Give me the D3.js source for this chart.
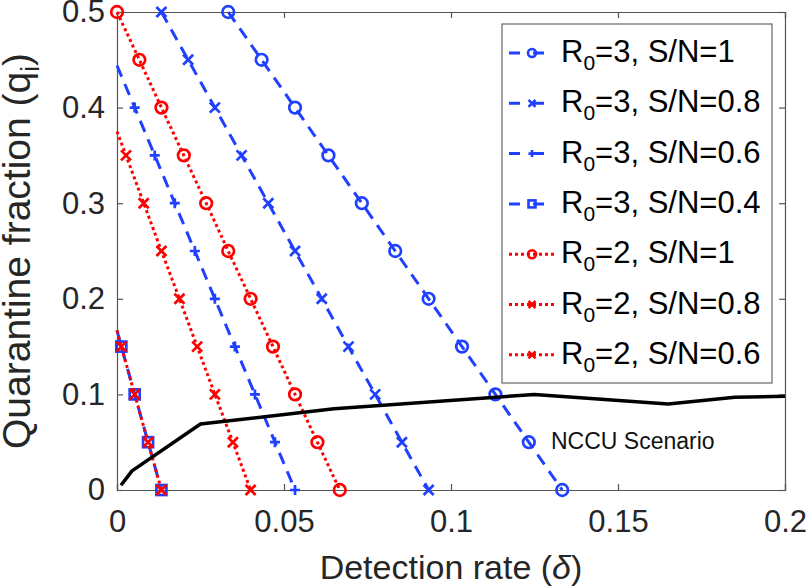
<!DOCTYPE html>
<html>
<head>
<meta charset="utf-8">
<script src="https://cdn.jsdelivr.net/npm/d3@7"></script>
<style>
  html, body { margin: 0; padding: 0; background: #fff; }
  svg { display: block; font-family: "Liberation Sans", Arial, Helvetica, sans-serif; }
</style>
</head>
<body>
<svg id="chart" width="807" height="588"></svg>
<script>
// ---------------- data ----------------
const qLevels   = [0.5, 0.45, 0.4, 0.35, 0.3, 0.25, 0.2, 0.15, 0.1, 0.05, 0];
const d_R3_S10  = [0.0333, 0.0433, 0.0533, 0.0633, 0.0733, 0.0833, 0.0933, 0.1033, 0.1133, 0.1233, 0.1333];
const d_R3_S08  = [0.0133, 0.0213, 0.0293, 0.0373, 0.0453, 0.0533, 0.0613, 0.0693, 0.0773, 0.0853, 0.0933];
const d_R3_S06  = [null, null, 0.0053, 0.0113, 0.0173, 0.0233, 0.0293, 0.0353, 0.0413, 0.0473, 0.0533];
const d_R3_S04  = [null, null, null, null, null, null, null, 0.0013, 0.0053, 0.0093, 0.0133];
const d_R2_S10  = [0, 0.0067, 0.0133, 0.02, 0.0267, 0.0333, 0.04, 0.0467, 0.0533, 0.06, 0.0667];
const d_R2_S08  = [null, null, null, 0.0027, 0.008, 0.0133, 0.0187, 0.024, 0.0293, 0.0347, 0.04];
const d_R2_S06  = [null, null, null, null, null, null, null, 0.0013, 0.0053, 0.0093, 0.0133];
// value of q where each curve meets delta = 0 (null if the curve starts at q = 0.5)
const qAtZero   = [null, null, 0.444, 0.167, null, 0.375, 0.167];
const seriesNames = ["R0=3, S/N=1", "R0=3, S/N=0.8", "R0=3, S/N=0.6", "R0=3, S/N=0.4",
                     "R0=2, S/N=1", "R0=2, S/N=0.8", "R0=2, S/N=0.6"];
const nccuDelta = [0.0012, 0.0045, 0.025, 0.065, 0.125, 0.165, 0.185, 0.2];
const nccuQ     = [0.005, 0.02, 0.069, 0.085, 0.1, 0.09, 0.097, 0.098];
const xTicks = [0, 0.05, 0.1, 0.15, 0.2];
const yTicks = [0, 0.1, 0.2, 0.3, 0.4, 0.5];

// ---------------- styles ----------------
const BLUE = "#2040ff", RED = "#ff0000", AX = "#262626";
const series = [
  { d: d_R3_S10, color: BLUE, dash: "12,8", marker: "circle" },
  { d: d_R3_S08, color: BLUE, dash: "12,8", marker: "x" },
  { d: d_R3_S06, color: BLUE, dash: "12,8", marker: "plus" },
  { d: d_R3_S04, color: BLUE, dash: "12,8", marker: "square" },
  { d: d_R2_S10, color: RED,  dash: "3,3",  marker: "circle" },
  { d: d_R2_S08, color: RED,  dash: "3,3",  marker: "x" },
  { d: d_R2_S06, color: RED,  dash: "3,3",  marker: "x" }
];

const svg = d3.select("#chart");
const L = 117, R = 785, T = 12, B = 490;
const x = d3.scaleLinear().domain([0, 0.2]).range([L, R]);
const y = d3.scaleLinear().domain([0, 0.5]).range([B, T]);

// axes (ticks inward, box)
const gx = svg.append("g").attr("transform", `translate(0,${B})`)
  .call(d3.axisBottom(x).tickValues(xTicks).tickFormat(d3.format("~g")).tickSize(-6).tickPadding(20));
const gy = svg.append("g").attr("transform", `translate(${L},0)`)
  .call(d3.axisLeft(y).tickValues(yTicks).tickFormat(d3.format("~g")).tickSize(-6).tickPadding(12));
const gx2 = svg.append("g").attr("transform", `translate(0,${T})`)
  .call(d3.axisTop(x).tickValues(xTicks).tickFormat("").tickSize(-6));
const gy2 = svg.append("g").attr("transform", `translate(${R},0)`)
  .call(d3.axisRight(y).tickValues(yTicks).tickFormat("").tickSize(-6));
[gx, gy, gx2, gy2].forEach(g => {
  g.selectAll(".domain").attr("stroke", "#555").attr("stroke-width", 1.2);
  g.selectAll(".tick line").attr("stroke", "#555").attr("stroke-width", 1.2);
  g.selectAll("text").attr("fill", AX).attr("font-size", 31).attr("font-family", null);
});

// axis titles
svg.append("text")
  .attr("x", (L + R) / 2).attr("y", 579)
  .attr("text-anchor", "middle").attr("font-size", 34).attr("fill", AX)
  .call(t => {
    t.append("tspan").text("Detection rate (");
    t.append("tspan").attr("font-style", "italic").text("δ");
    t.append("tspan").text(")");
  });
svg.append("text")
  .attr("transform", `translate(30,${(T + B) / 2}) rotate(-90)`)
  .attr("text-anchor", "middle").attr("font-size", 39).attr("fill", AX)
  .call(t => {
    t.append("tspan").text("Quarantine fraction (q");
    t.append("tspan").attr("font-size", 26).attr("dy", 9).text("i");
    t.append("tspan").attr("dy", -9).text(")");
  });

// marker drawing
function drawMarker(g, type, cx, cy, color, s, sw) {
  if (type === "circle") {
    g.append("circle").attr("cx", cx).attr("cy", cy).attr("r", s)
      .attr("fill", "none").attr("stroke", color).attr("stroke-width", sw);
  } else if (type === "x") {
    g.append("path").attr("d", `M${cx - s},${cy - s}L${cx + s},${cy + s}M${cx - s},${cy + s}L${cx + s},${cy - s}`)
      .attr("stroke", color).attr("stroke-width", sw).attr("fill", "none");
  } else if (type === "plus") {
    g.append("path").attr("d", `M${cx - s},${cy}L${cx + s},${cy}M${cx},${cy - s}L${cx},${cy + s}`)
      .attr("stroke", color).attr("stroke-width", sw).attr("fill", "none");
  } else if (type === "square") {
    g.append("rect").attr("x", cx - s).attr("y", cy - s).attr("width", 2 * s).attr("height", 2 * s)
      .attr("fill", "none").attr("stroke", color).attr("stroke-width", sw);
  }
}

// curves
const line = d3.line().x(p => x(p[0])).y(p => y(p[1]));
series.forEach((s, i) => {
  const pts = [];
  if (qAtZero[i] !== null) pts.push([0, qAtZero[i]]);
  s.d.forEach((dv, k) => { if (dv !== null) pts.push([dv, qLevels[k]]); });
  const g = svg.append("g");
  g.append("path").attr("d", line(pts)).attr("fill", "none")
    .attr("stroke", s.color).attr("stroke-width", 3).attr("stroke-dasharray", s.dash);
  s.d.forEach((dv, k) => {
    if (dv !== null) {
      const sz = s.marker === "circle" ? 5.8 : 5;
      drawMarker(g, s.marker, x(dv), y(qLevels[k]), s.color, sz, 2.7);
    }
  });
});

// NCCU line
svg.append("path")
  .attr("d", line(nccuDelta.map((d, i) => [d, nccuQ[i]])))
  .attr("fill", "none").attr("stroke", "#000").attr("stroke-width", 3.5).attr("stroke-linejoin", "round");
svg.append("text").attr("x", 551).attr("y", 449).attr("font-size", 23).attr("fill", "#111").text("NCCU Scenario");

// legend
const lg = svg.append("g");
lg.append("rect").attr("x", 502).attr("y", 24).attr("width", 270).attr("height", 359)
  .attr("fill", "#fff").attr("stroke", "#666").attr("stroke-width", 1.2);
series.forEach((s, i) => {
  const ly = 53 + 50.3 * i;
  lg.append("line").attr("x1", 509).attr("x2", 555).attr("y1", ly).attr("y2", ly)
    .attr("stroke", s.color).attr("stroke-width", 3).attr("stroke-dasharray", s.color === BLUE ? "11,13" : "3,3");
  drawMarker(lg, s.marker, 532, ly, s.color, s.marker === "circle" ? 4 : 3.5, 2.6);
  const parts = seriesNames[i].split("0=");
  const t = lg.append("text").attr("x", 561).attr("y", ly + 9).attr("font-size", 31).attr("fill", "#000");
  t.append("tspan").text("R");
  t.append("tspan").attr("font-size", 21).attr("dy", 8).text("0");
  t.append("tspan").attr("dy", -8).text("=" + parts[1]);
});
</script>
</body>
</html>
